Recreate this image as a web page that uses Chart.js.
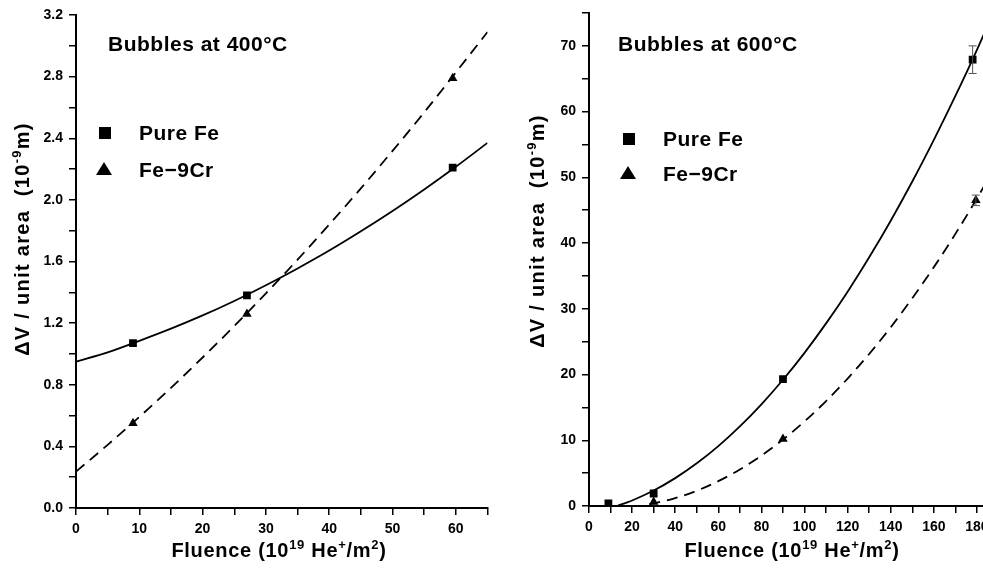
<!DOCTYPE html>
<html>
<head>
<meta charset="utf-8">
<script src="https://cdn.jsdelivr.net/npm/chart.js@4.4.0/dist/chart.umd.min.js"></script>
<style>
    html, body { margin: 0; padding: 0; background: #fff; overflow: hidden; width: 983px; height: 578px; }
    canvas { position: absolute; top: 0; }
    #c400 { left: 0; }
    #c600 { left: 520px; }
</style>
</head>
<body>
<canvas id="c400" width="500" height="578"></canvas>
<canvas id="c600" width="500" height="578"></canvas>
<script>
// ==========================================
// 1. DATA
// ==========================================
// --- Bubbles at 400 C ---
const fluence400 = [9, 27, 59.5];
const pureFe400  = [1.07, 1.38, 2.21];
const fe9Cr400   = [0.55, 1.26, 2.79];
// fitted curves
const fitX400      = [0, 5, 10, 15, 20, 25, 30, 35, 40, 45, 50, 55, 60, 65];
const fitPureFe400 = [0.95, 1.01, 1.085, 1.164, 1.25, 1.344, 1.446, 1.555, 1.671, 1.796, 1.928, 2.068, 2.215, 2.37];
const fitFe9Cr400  = [0.236, 0.41, 0.591, 0.78, 0.977, 1.181, 1.393, 1.612, 1.84, 2.075, 2.318, 2.568, 2.827, 3.09];

// --- Bubbles at 600 C ---
const fluenceFe600 = [9, 30, 90, 178];
const pureFe600    = [0.4, 1.9, 19.3, 67.9];
const errFe600     = [0, 0, 0, 2.1];
const fluenceCr600 = [30, 90, 179.5];
const fe9Cr600     = [0.6, 10.2, 46.5];
const errCr600     = [0, 0, 0.8];
// fitted curves
const fitFeX600    = [13, 20, 30, 40, 50, 60, 70, 80, 90, 100, 110, 120, 130, 140, 150, 160, 170, 180, 190];
const fitPureFe600 = [0, 0.84, 2.35, 4.24, 6.49, 9.11, 12.11, 15.47, 19.2, 23.3, 27.78, 32.6, 37.83, 43.4, 49.36, 55.7, 62.38, 69.4, 76.9];
const fitCrX600    = [28, 30, 40, 50, 60, 70, 80, 90, 100, 110, 120, 130, 140, 150, 160, 170, 180, 190];
const fitFe9Cr600  = [0.28, 0.4, 1.2, 2.32, 3.78, 5.56, 7.67, 10.1, 12.87, 15.96, 19.39, 23.13, 27.2, 31.61, 36.34, 41.4, 46.79, 52.5];

// ==========================================
// 2. HELPERS
// ==========================================
const FONT = "'Liberation Sans', Arial, sans-serif";
const pts = (xs, ys) => xs.map((x, i) => ({ x: x, y: ys[i] }));

// draw text with superscript parts: parts = [[text, isSup], ...]
function drawRich(ctx, parts, cx, cy, rot, size, supSize, spacing) {
    const big = 'bold ' + size + 'px ' + FONT;
    const small = 'bold ' + supSize + 'px ' + FONT;
    ctx.save();
    ctx.letterSpacing = spacing + 'px';
    let w = 0;
    parts.forEach(p => { ctx.font = p[1] ? small : big; w += ctx.measureText(p[0]).width; });
    ctx.translate(cx, cy);
    ctx.rotate(rot);
    ctx.textAlign = 'left';
    ctx.textBaseline = 'alphabetic';
    let x = -w / 2;
    const base = size * 0.36;
    parts.forEach(p => {
        ctx.font = p[1] ? small : big;
        ctx.fillText(p[0], x, p[1] ? base - size * 0.42 : base);
        x += ctx.measureText(p[0]).width;
    });
    ctx.restore();
}

// titles, legend and axis titles drawn on the canvas
const figureText = {
    id: 'figureText',
    afterDraw(chart, args, o) {
        const ctx = chart.ctx;
        ctx.save();
        ctx.fillStyle = '#000';
        ctx.textAlign = 'left';
        ctx.textBaseline = 'middle';
        ctx.letterSpacing = '0.5px';
        ctx.font = 'bold 21px ' + FONT;
        ctx.fillText(o.title, o.titleX, o.titleY);

        // legend
        ctx.fillRect(o.legX - 6, o.legY1 - 6, 12, 12);
        ctx.beginPath();
        ctx.moveTo(o.legX - 1, o.legY2 - 7);
        ctx.lineTo(o.legX + 7, o.legY2 + 6);
        ctx.lineTo(o.legX - 9, o.legY2 + 6);
        ctx.closePath();
        ctx.fill();
        ctx.fillText('Pure Fe', o.legTextX, o.legY1 + 1);
        ctx.fillText('Fe\u22129Cr', o.legTextX, o.legY2 + 2);

        // axis titles
        drawRich(ctx, [['Fluence (10', false], ['19', true], [' He', false], ['+', true], ['/m', false], ['2', true], [')', false]],
            o.xTitleX, o.xTitleY, 0, 20, 13, 0.7);
        drawRich(ctx, [['\u0394V / unit area  (10', false], ['-9', true], ['m)', false]],
            o.yTitleX, o.yTitleY, -Math.PI / 2, 20, 13, 1.3);
        ctx.restore();
    }
};

// simple error bars from dataset.errors
const errorBars = {
    id: 'errorBars',
    afterDatasetsDraw(chart) {
        const ctx = chart.ctx;
        const xs = chart.scales.x, ys = chart.scales.y;
        ctx.save();
        ctx.strokeStyle = '#555';
        ctx.lineWidth = 1;
        chart.data.datasets.forEach(ds => {
            if (!ds.errors) return;
            ds.data.forEach((p, i) => {
                const e = ds.errors[i];
                if (!e) return;
                const px = xs.getPixelForValue(p.x);
                const top = ys.getPixelForValue(p.y + e);
                const bot = ys.getPixelForValue(p.y - e);
                ctx.beginPath();
                ctx.moveTo(px, top); ctx.lineTo(px, bot);
                ctx.moveTo(px - 4, top); ctx.lineTo(px + 4, top);
                ctx.moveTo(px - 4, bot); ctx.lineTo(px + 4, bot);
                ctx.stroke();
            });
        });
        ctx.restore();
    }
};

function axis(min, max, step, labelFn, pad) {
    return {
        type: 'linear',
        min: min,
        max: max,
        grid: { display: true, drawOnChartArea: false, drawTicks: true, tickLength: 7, color: '#000', lineWidth: 1.5 },
        border: { display: true, color: '#000', width: 2 },
        ticks: {
            stepSize: step,
            autoSkip: false,
            maxRotation: 0,
            padding: pad,
            color: '#000',
            font: { family: FONT, size: 14, weight: 'bold', lineHeight: 1 },
            callback: labelFn
        },
        title: { display: false }
    };
}

function pointSet(label, xs, ys, style, radius, errs) {
    return {
        label: label,
        data: pts(xs, ys),
        pointStyle: style,
        pointRadius: radius,
        pointBackgroundColor: '#000',
        pointBorderWidth: 0,
        showLine: false,
        errors: errs
    };
}

function fitSet(xs, ys, dashed) {
    return {
        data: pts(xs, ys),
        showLine: true,
        pointRadius: 0,
        borderColor: '#000',
        borderWidth: 1.8,
        borderDash: dashed ? [11, 7] : [],
        cubicInterpolationMode: 'monotone'
    };
}

function baseOptions(pad, yWidth, xHeight, xAxis, yAxis, text) {
    return {
        responsive: false,
        animation: false,
        layout: { padding: pad },
        plugins: { legend: { display: false }, tooltip: { enabled: false }, figureText: text },
        scales: {
            x: Object.assign(xAxis, { position: 'bottom', afterFit: s => { s.height = xHeight; } }),
            y: Object.assign(yAxis, { position: 'left', afterFit: s => { s.width = yWidth; } })
        }
    };
}

// ==========================================
// 3. CHART 400 C
// ==========================================
new Chart(document.getElementById('c400'), {
    type: 'scatter',
    data: {
        datasets: [
            fitSet(fitX400, fitPureFe400, false),
            fitSet(fitX400, fitFe9Cr400, true),
            pointSet('Pure Fe', fluence400, pureFe400, 'rect', 5.5),
            pointSet('Fe-9Cr', fluence400, fe9Cr400, 'triangle', 5.5)
        ]
    },
    options: baseOptions(
        { left: 0, top: 15, right: 12.5, bottom: 0 }, 76, 70,
        axis(0, 65, 5, v => (v % 10 === 0 ? String(v) : ''), 7),
        axis(0, 3.2, 0.2, v => (Math.round(v * 10) % 4 === 0 ? v.toFixed(1) : ''), 6),
        { title: 'Bubbles at 400\u00B0C', titleX: 108, titleY: 45,
          legX: 105, legY1: 133, legY2: 169, legTextX: 139,
          xTitleX: 279, xTitleY: 550, yTitleX: 22, yTitleY: 239 }
    ),
    plugins: [figureText, errorBars]
});

// ==========================================
// 4. CHART 600 C
// ==========================================
new Chart(document.getElementById('c600'), {
    type: 'scatter',
    data: {
        datasets: [
            fitSet(fitFeX600, fitPureFe600, false),
            fitSet(fitCrX600, fitFe9Cr600, true),
            pointSet('Pure Fe', fluenceFe600, pureFe600, 'rect', 5.5, errFe600),
            pointSet('Fe-9Cr', fluenceCr600, fe9Cr600, 'triangle', 5.5, errCr600)
        ]
    },
    options: baseOptions(
        { left: 0, top: 13, right: 21.5, bottom: 0 }, 69, 72,
        axis(0, 190, 10, v => (v % 20 === 0 ? String(v) : ''), 7),
        axis(0, 75, 5, v => (v % 10 === 0 ? String(v) : ''), 6),
        { title: 'Bubbles at 600\u00B0C', titleX: 98, titleY: 45,
          legX: 109, legY1: 139, legY2: 173, legTextX: 143,
          xTitleX: 272, xTitleY: 550, yTitleX: 17, yTitleY: 231 }
    ),
    plugins: [figureText, errorBars]
});
</script>
</body>
</html>
